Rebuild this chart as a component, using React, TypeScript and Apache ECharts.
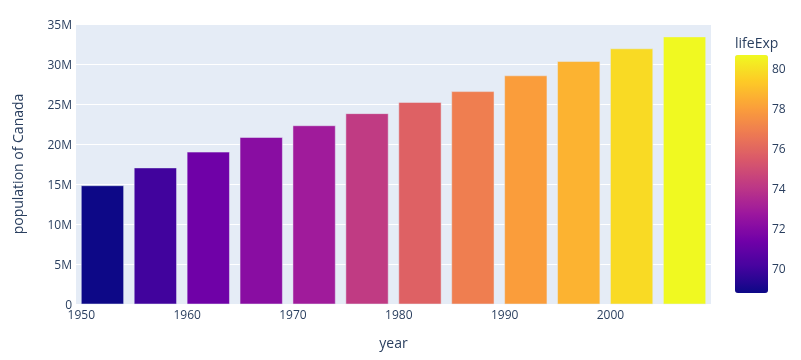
import React, { useEffect, useRef } from "react";
import * as echarts from "echarts";

const years = [1952, 1957, 1962, 1967, 1972, 1977, 1982, 1987, 1992, 1997, 2002, 2007];
const population = [14785584, 17010154, 18985849, 20819767, 22284500, 23796400, 25201900, 26549700, 28523502, 30305843, 31902268, 33390141];
const lifeExp = [68.75, 69.96, 71.3, 72.13, 72.88, 74.21, 75.76, 76.86, 77.95, 78.61, 79.77, 80.653];
const plasma = ["#0d0887", "#46039f", "#7201a8", "#9c179e", "#bd3786", "#d8576b", "#ed7953", "#fb9f3a", "#fdca26", "#f0f921"];
const yTickLabels = ["0", "5M", "10M", "15M", "20M", "25M", "30M", "35M"];

const FONT = '"Open Sans", verdana, arial, sans-serif';
const TXT = "#2a3f5f";

export default function App() {
  const ref = useRef<HTMLDivElement>(null);
  useEffect(() => {
    if (!ref.current) return;
    const chart = echarts.init(ref.current, null, { renderer: "svg" });
    const data = years.map((y, i) => [y, population[i], lifeExp[i]]);
    const leMin = Math.min(...lifeExp);
    const leMax = Math.max(...lifeExp);
    chart.setOption({
      animation: false,
      textStyle: { fontFamily: FONT, color: TXT },
      grid: [
        { left: 76, right: 90, top: 24, bottom: 56, show: true, backgroundColor: "#E5ECF6", borderWidth: 0 },
        { left: 735, width: 33, top: 55, height: 238, show: false },
      ],
      xAxis: [
        {
          type: "value",
          gridIndex: 0,
          min: 1949.5,
          max: 2009.5,
          name: "year",
          nameLocation: "middle",
          nameGap: 31,
          nameTextStyle: { fontSize: 14, color: TXT, fontFamily: FONT },
          axisLine: { show: false },
          axisTick: { show: false },
          splitLine: { show: false },
          axisLabel: {
            showMinLabel: false,
            showMaxLabel: false,
            margin: 4,
            fontSize: 12,
            color: TXT,
            fontFamily: FONT,
            formatter: (v: number) => String(Math.round(v)),
          },
        },
        { type: "value", gridIndex: 1, show: false, min: 0, max: 1 },
      ],
      yAxis: [
        {
          type: "value",
          gridIndex: 0,
          min: 0,
          max: 35000000,
          interval: 5000000,
          name: "population of Canada",
          nameLocation: "middle",
          nameGap: 52,
          nameTextStyle: { fontSize: 14, color: TXT, fontFamily: FONT },
          axisLine: { show: false },
          axisTick: { show: false },
          splitLine: { show: true, lineStyle: { color: "#ffffff", width: 1 } },
          axisLabel: {
            margin: 4,
            fontSize: 12,
            color: TXT,
            fontFamily: FONT,
            formatter: (v: number) => yTickLabels[Math.round(v / 5000000)] ?? "",
          },
        },
        {
          type: "value",
          gridIndex: 1,
          position: "right",
          min: leMin,
          max: leMax,
          axisLine: { show: false },
          axisTick: { show: false },
          splitLine: { show: false },
          axisLabel: {
            showMinLabel: false,
            showMaxLabel: false,
            margin: 4,
            fontSize: 12,
            color: TXT,
            fontFamily: FONT,
          },
        },
      ],
      visualMap: {
        type: "continuous",
        seriesIndex: 0,
        dimension: 2,
        min: leMin,
        max: leMax,
        calculable: false,
        left: 735,
        top: 55,
        padding: 0,
        itemWidth: 33,
        itemHeight: 238,
        text: null,
        inRange: { color: plasma },
      },
      graphic: [
        {
          type: "text",
          left: 735,
          top: 35,
          style: { text: "lifeExp", fontSize: 14, fill: TXT, fontFamily: FONT },
        },
      ],
      series: [
        {
          type: "custom",
          xAxisIndex: 0,
          yAxisIndex: 0,
          encode: { x: 0, y: 1 },
          data,
          renderItem: (params: any, api: any) => {
            const yr = api.value(0);
            const p = api.value(1);
            const a = api.coord([yr - 2, p]);
            const b = api.coord([yr + 2, 0]);
            return {
              type: "rect",
              shape: { x: a[0], y: a[1], width: b[0] - a[0], height: b[1] - a[1] },
              style: { fill: api.visual("color"), stroke: "#E5ECF6", lineWidth: 0.5 },
            };
          },
        },
        { type: "scatter", xAxisIndex: 1, yAxisIndex: 1, data: [] },
      ],
    });
    return () => chart.dispose();
  }, []);
  return <div ref={ref} style={{ position: "fixed", left: 0, top: 0, width: 801, height: 360 }} />;
}
